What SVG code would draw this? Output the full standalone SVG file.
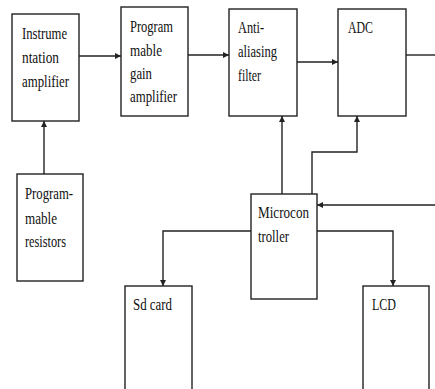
<svg xmlns="http://www.w3.org/2000/svg" width="435" height="389" viewBox="0 0 435 389">
<style>
.box{fill:#fff;stroke:#222;stroke-width:1.4}
.ln{fill:none;stroke:#222;stroke-width:1.4}
text{font-family:"Liberation Serif","Times New Roman",serif;font-size:17px;fill:#111}
</style>
<defs>
<marker id="ah" viewBox="0 0 10 10" refX="10" refY="5" markerWidth="6" markerHeight="6" markerUnits="userSpaceOnUse" orient="auto">
<path d="M0,0 L10,5 L0,10 z" fill="#222"/>
</marker>
</defs>
<rect width="435" height="389" fill="#fff"/>
<g id="connectors">
<line class="ln" x1="79" y1="56" x2="121" y2="56" marker-end="url(#ah)"/>
<line class="ln" x1="188" y1="55" x2="229" y2="55" marker-end="url(#ah)"/>
<line class="ln" x1="297" y1="62" x2="338" y2="62" marker-end="url(#ah)"/>
<line class="ln" x1="406" y1="55" x2="435" y2="55"/>
<line class="ln" x1="44" y1="174" x2="44" y2="121" marker-end="url(#ah)"/>
<line class="ln" x1="282" y1="194" x2="282" y2="116" marker-end="url(#ah)"/>
<polyline class="ln" points="312,194 312,152 357,152 357,116" marker-end="url(#ah)"/>
<line class="ln" x1="435" y1="205" x2="317" y2="205" marker-end="url(#ah)"/>
<polyline class="ln" points="251,231 163,231 163,286" marker-end="url(#ah)"/>
<polyline class="ln" points="317,231 393,231 393,286" marker-end="url(#ah)"/>
</g>
<g id="instrumentation-amplifier">
<rect class="box" x="12" y="14" width="67" height="107"/>
<text x="22" y="39" textLength="45" lengthAdjust="spacingAndGlyphs">Instrume</text>
<text x="22" y="63" textLength="37" lengthAdjust="spacingAndGlyphs">ntation</text>
<text x="22" y="87" textLength="47" lengthAdjust="spacingAndGlyphs">amplifier</text>
</g>
<g id="pga">
<rect class="box" x="121" y="7" width="67" height="109"/>
<text x="130" y="32" textLength="43" lengthAdjust="spacingAndGlyphs">Program</text>
<text x="130" y="56" textLength="32" lengthAdjust="spacingAndGlyphs">mable</text>
<text x="130" y="79" textLength="22" lengthAdjust="spacingAndGlyphs">gain</text>
<text x="130" y="102" textLength="47" lengthAdjust="spacingAndGlyphs">amplifier</text>
</g>
<g id="anti-aliasing">
<rect class="box" x="229" y="9" width="68" height="107"/>
<text x="238" y="33" textLength="26" lengthAdjust="spacingAndGlyphs">Anti-</text>
<text x="238" y="57" textLength="39" lengthAdjust="spacingAndGlyphs">aliasing</text>
<text x="238" y="81" textLength="23" lengthAdjust="spacingAndGlyphs">filter</text>
</g>
<g id="adc">
<rect class="box" x="338" y="9" width="68" height="107"/>
<text x="348" y="33" textLength="25" lengthAdjust="spacingAndGlyphs">ADC</text>
</g>
<g id="programmable-resistors">
<rect class="box" x="17" y="174" width="66" height="107"/>
<text x="25" y="199" textLength="48" lengthAdjust="spacingAndGlyphs">Program-</text>
<text x="25" y="224" textLength="32" lengthAdjust="spacingAndGlyphs">mable</text>
<text x="25" y="247" textLength="41" lengthAdjust="spacingAndGlyphs">resistors</text>
</g>
<g id="microcontroller">
<rect class="box" x="251" y="194" width="66" height="105"/>
<text x="258" y="218" textLength="51" lengthAdjust="spacingAndGlyphs">Microcon</text>
<text x="258" y="242" textLength="31" lengthAdjust="spacingAndGlyphs">troller</text>
</g>
<g id="sd-card">
<rect class="box" x="125" y="286" width="67" height="110"/>
<text x="133" y="310" textLength="39" lengthAdjust="spacingAndGlyphs">Sd card</text>
</g>
<g id="lcd">
<rect class="box" x="363" y="286" width="66" height="110"/>
<text x="372" y="310" textLength="24" lengthAdjust="spacingAndGlyphs">LCD</text>
</g>
</svg>
